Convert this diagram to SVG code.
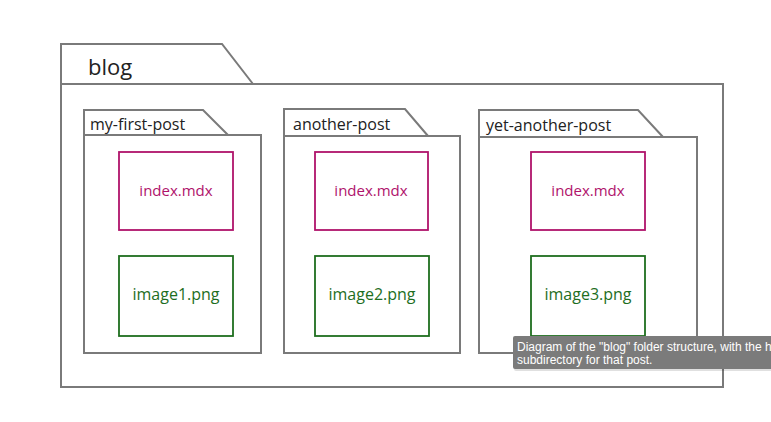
<svg xmlns="http://www.w3.org/2000/svg" width="771" height="422" viewBox="0 0 771 422">
<style>
.folder{fill:#fff;stroke:#7a7a7a;stroke-width:2;stroke-linejoin:miter}
.lbl{font-family:"Open Sans","Liberation Sans",sans-serif;fill:#222}
.mdx{fill:#fff;stroke:#b0136b;stroke-width:1.8}
.png{fill:#fff;stroke:#1e6e1e;stroke-width:1.8}
.mdxt{font-family:"Open Sans","Liberation Sans",sans-serif;font-size:15px;fill:#b0136b;text-anchor:middle}
.pngt{font-family:"Open Sans","Liberation Sans",sans-serif;font-size:16px;fill:#1e6e1e;text-anchor:middle}
.tip{font-family:"Liberation Sans",Arial,sans-serif;font-size:12px;fill:#fff}
</style>
<rect width="771" height="422" fill="#fff"/>
<g id="blog">
<path class="folder" d="M61 84 V44 H222 L253 84"/>
<rect class="folder" x="61" y="84" width="662" height="303"/>
<text class="lbl" x="88" y="75" font-size="22">blog</text>
</g>
<g id="my-first-post">
<path class="folder" d="M84 135 V110 H203 L228 135"/>
<rect class="folder" x="84" y="135" width="177" height="218"/>
<text class="lbl" x="90" y="130" font-size="16">my-first-post</text>
</g>
<g id="another-post">
<path class="folder" d="M284 136 V109 H405 L428 136"/>
<rect class="folder" x="284" y="136" width="176" height="217"/>
<text class="lbl" x="293" y="130" font-size="16">another-post</text>
</g>
<g id="yet-another-post">
<path class="folder" d="M479 137 V110 H638 L663 137"/>
<rect class="folder" x="479" y="137" width="218" height="216"/>
<text class="lbl" x="486" y="131" font-size="16">yet-another-post</text>
</g>
<g id="index1"><rect class="mdx" x="119" y="152" width="114" height="78"/><text class="mdxt" x="176" y="196">index.mdx</text></g>
<g id="index2"><rect class="mdx" x="315" y="152" width="113" height="78"/><text class="mdxt" x="371" y="196">index.mdx</text></g>
<g id="index3"><rect class="mdx" x="531" y="152" width="114" height="78"/><text class="mdxt" x="588" y="196">index.mdx</text></g>
<g id="image1"><rect class="png" x="119" y="256" width="114" height="80"/><text class="pngt" x="176" y="300">image1.png</text></g>
<g id="image2"><rect class="png" x="315" y="256" width="114" height="80"/><text class="pngt" x="372" y="300">image2.png</text></g>
<g id="image3"><rect class="png" x="531" y="256" width="114" height="80"/><text class="pngt" x="588" y="300">image3.png</text></g>
<g id="connectors"></g>
<g id="tooltip">
<rect x="514" y="338" width="270" height="33" rx="2" fill="#000" opacity="0.12"/>
<rect x="513" y="336" width="270" height="33" rx="2" fill="#7b7b7b"/>
<text class="tip" x="517" y="351">Diagram of the "blog" folder structure, with the h</text>
<text class="tip" x="517" y="364">subdirectory for that post.</text>
</g>
</svg>
